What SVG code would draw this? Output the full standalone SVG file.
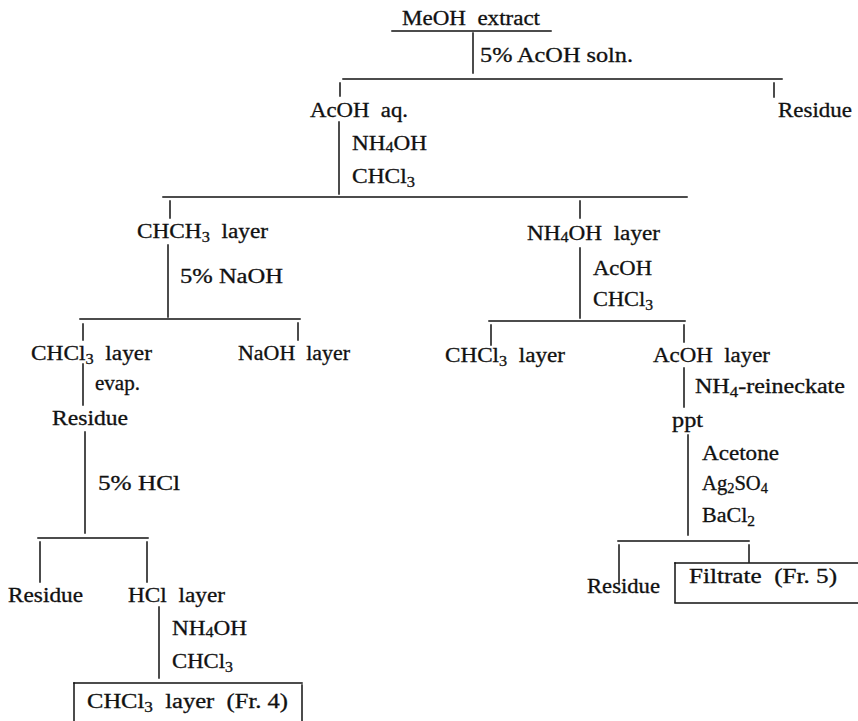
<svg xmlns="http://www.w3.org/2000/svg" width="858" height="721" viewBox="0 0 858 721" xml:space="preserve">
<style>
text{font-family:"Liberation Serif","Times New Roman",serif;font-size:20px;fill:#111;stroke:#111;stroke-width:0.3;white-space:pre;}
.s{font-size:14px;}
#connectors line{stroke:#111;stroke-width:1.5;stroke-linecap:square;}
</style>
<rect width="858" height="721" fill="#fff"/>
<g id="connectors">
<line x1="392" y1="31" x2="551" y2="31"/>
<line x1="473" y1="33" x2="473" y2="73"/>
<line x1="343" y1="79" x2="782" y2="79"/>
<line x1="340" y1="83" x2="340" y2="96"/>
<line x1="774" y1="83" x2="774" y2="97"/>
<line x1="339" y1="122" x2="339" y2="194"/>
<line x1="163" y1="197" x2="687" y2="197"/>
<line x1="170" y1="201" x2="170" y2="218"/>
<line x1="580" y1="201" x2="580" y2="218"/>
<line x1="168" y1="245" x2="168" y2="317"/>
<line x1="80" y1="319" x2="300" y2="319"/>
<line x1="83" y1="324" x2="83" y2="340"/>
<line x1="298" y1="323" x2="298" y2="340"/>
<line x1="83" y1="364" x2="83" y2="405"/>
<line x1="85" y1="432" x2="85" y2="533"/>
<line x1="38" y1="538" x2="148" y2="538"/>
<line x1="40" y1="542" x2="40" y2="582"/>
<line x1="147" y1="542" x2="147" y2="582"/>
<line x1="159" y1="607" x2="159" y2="678"/>
<line x1="74" y1="683" x2="302" y2="683"/>
<line x1="74" y1="683" x2="74" y2="721"/>
<line x1="302" y1="685" x2="302" y2="721"/>
<line x1="580" y1="248" x2="580" y2="318"/>
<line x1="489" y1="321" x2="685" y2="321"/>
<line x1="491" y1="325" x2="491" y2="345"/>
<line x1="684" y1="325" x2="684" y2="342"/>
<line x1="684" y1="368" x2="684" y2="407"/>
<line x1="688" y1="435" x2="688" y2="535"/>
<line x1="618" y1="541" x2="749" y2="541"/>
<line x1="619" y1="545" x2="619" y2="583"/>
<line x1="749" y1="545" x2="749" y2="562"/>
<line x1="675" y1="563" x2="858" y2="563"/>
<line x1="675" y1="563" x2="675" y2="602"/>
<line x1="675" y1="603" x2="858" y2="603"/>
</g>
<g id="meoh-extract"><text x="402" y="25" textLength="138" lengthAdjust="spacingAndGlyphs">MeOH  extract</text></g>
<g id="step1"><text x="480" y="62" textLength="153" lengthAdjust="spacingAndGlyphs">5% AcOH soln.</text></g>
<g id="acoh-aq"><text x="310" y="117" textLength="98" lengthAdjust="spacingAndGlyphs">AcOH  aq.</text></g>
<g id="residue-1"><text x="778" y="117" textLength="74" lengthAdjust="spacingAndGlyphs">Residue</text></g>
<g id="step2"><text x="352" y="150" textLength="75" lengthAdjust="spacingAndGlyphs">NH<tspan class="s" dy="2">4</tspan><tspan dy="-2">OH</tspan></text>
<text x="352" y="183" textLength="63" lengthAdjust="spacingAndGlyphs">CHCl<tspan class="s" dy="4">3</tspan></text></g>
<g id="chch3-layer"><text x="137" y="238" textLength="131" lengthAdjust="spacingAndGlyphs">CHCH<tspan class="s" dy="4">3</tspan><tspan dy="-4">  layer</tspan></text></g>
<g id="step3"><text x="180" y="283" textLength="103" lengthAdjust="spacingAndGlyphs">5% NaOH</text></g>
<g id="nh4oh-layer"><text x="527" y="240" textLength="133" lengthAdjust="spacingAndGlyphs">NH<tspan class="s" dy="2">4</tspan><tspan dy="-2">OH  layer</tspan></text></g>
<g id="step4"><text x="593" y="275" textLength="59" lengthAdjust="spacingAndGlyphs">AcOH</text>
<text x="593" y="306" textLength="60" lengthAdjust="spacingAndGlyphs">CHCl<tspan class="s" dy="4">3</tspan></text></g>
<g id="chcl3-layer-1"><text x="31" y="360" textLength="121" lengthAdjust="spacingAndGlyphs">CHCl<tspan class="s" dy="4">3</tspan><tspan dy="-4">  layer</tspan></text></g>
<g id="naoh-layer"><text x="238" y="360" textLength="112" lengthAdjust="spacingAndGlyphs">NaOH  layer</text></g>
<g id="chcl3-layer-2"><text x="445" y="362" textLength="120" lengthAdjust="spacingAndGlyphs">CHCl<tspan class="s" dy="4">3</tspan><tspan dy="-4">  layer</tspan></text></g>
<g id="acoh-layer"><text x="653" y="362" textLength="117" lengthAdjust="spacingAndGlyphs">AcOH  layer</text></g>
<g id="step5"><text x="95" y="390" textLength="45" lengthAdjust="spacingAndGlyphs">evap.</text></g>
<g id="step6"><text x="695" y="393" textLength="150" lengthAdjust="spacingAndGlyphs">NH<tspan class="s" dy="4">4</tspan><tspan dy="-4">-reineckate</tspan></text></g>
<g id="residue-2"><text x="52" y="425" textLength="76" lengthAdjust="spacingAndGlyphs">Residue</text></g>
<g id="ppt"><text x="672" y="427" textLength="31" lengthAdjust="spacingAndGlyphs">ppt</text></g>
<g id="step7"><text x="702" y="460" textLength="77" lengthAdjust="spacingAndGlyphs">Acetone</text>
<text x="702" y="490" textLength="66" lengthAdjust="spacingAndGlyphs">Ag<tspan class="s" dy="3">2</tspan><tspan dy="-3">SO</tspan><tspan class="s" dy="3">4</tspan></text>
<text x="702" y="522" textLength="53" lengthAdjust="spacingAndGlyphs">BaCl<tspan class="s" dy="4">2</tspan></text></g>
<g id="step8"><text x="98" y="490" textLength="82" lengthAdjust="spacingAndGlyphs">5% HCl</text></g>
<g id="filtrate"><text x="689" y="583" textLength="148" lengthAdjust="spacingAndGlyphs">Filtrate  (Fr. 5)</text></g>
<g id="residue-4"><text x="587" y="593" textLength="73" lengthAdjust="spacingAndGlyphs">Residue</text></g>
<g id="residue-3"><text x="8" y="602" textLength="75" lengthAdjust="spacingAndGlyphs">Residue</text></g>
<g id="hcl-layer"><text x="128" y="602" textLength="97" lengthAdjust="spacingAndGlyphs">HCl  layer</text></g>
<g id="step9"><text x="172" y="635" textLength="75" lengthAdjust="spacingAndGlyphs">NH<tspan class="s" dy="2">4</tspan><tspan dy="-2">OH</tspan></text>
<text x="172" y="668" textLength="61" lengthAdjust="spacingAndGlyphs">CHCl<tspan class="s" dy="4">3</tspan></text></g>
<g id="fr4"><text x="87" y="708" textLength="201" lengthAdjust="spacingAndGlyphs">CHCl<tspan class="s" dy="4">3</tspan><tspan dy="-4">  layer  (Fr. 4)</tspan></text></g>
</svg>
